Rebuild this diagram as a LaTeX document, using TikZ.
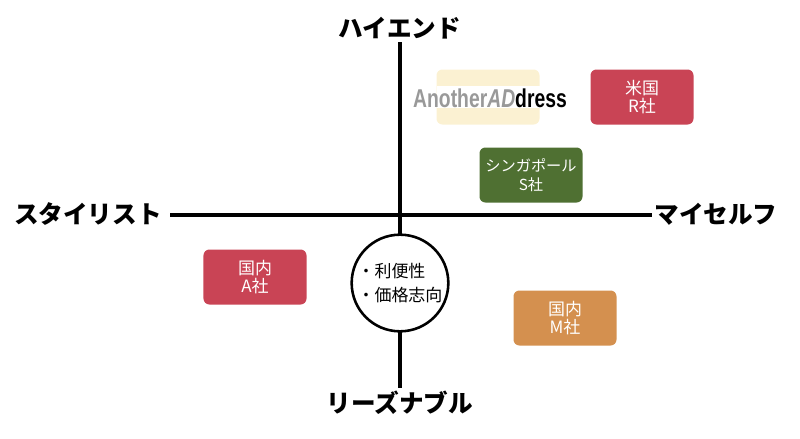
\documentclass[tikz,border=0pt]{standalone}
\usepackage{fontspec}
\setmainfont{Noto Sans CJK JP}
\newfontfamily\logofont{Liberation Sans}[FakeStretch=0.75]
\begin{document}
\begin{tikzpicture}[x=0.03cm,y=-0.03cm]
\definecolor{rred}{HTML}{C94455}
\definecolor{sgreen}{HTML}{4F7032}
\definecolor{morange}{HTML}{D4904F}
\definecolor{cream}{HTML}{FBF1D2}
\tikzset{
 axis/.style={line width=3.2pt,black},
 axlabel/.style={font=\fontsize{21}{21}\selectfont\bfseries},
 company/.style={rounded corners=5pt,minimum width=3.09cm,minimum height=1.65cm,text=white,align=center,font=\fontsize{14.5}{16}\selectfont,inner sep=0pt}
}
\useasboundingbox (0,0) rectangle (800,438);
\node[axlabel] (top) at (400,28) {ハイエンド};
\node[axlabel] (bot) at (400,403) {リーズナブル};
\node[axlabel] (left) at (88,214) {スタイリスト};
\node[axlabel] (right) at (716,214) {マイセルフ};
\coordinate (tA) at (400,42);
\coordinate (bA) at (400,388);
\coordinate (lA) at (170,215);
\coordinate (rA) at (652,215);
\draw[axis] (tA) -- (bA);
\draw[axis] (lA) -- (rA);
\node[circle,draw,line width=2.2pt,fill=white,minimum size=2.9cm,align=left,inner sep=0pt,font=\fontsize{14.5}{20}\selectfont] (c) at (400,283) {・利便性\\・価格志向};
\node[company,fill=cream,text=black] (logo) at (488,97) {};
\fill[white] (437,86) rectangle (540,108);
\node[font=\logofont\fontsize{22}{22}\selectfont\bfseries] (lt) at (490,98) {\textcolor{gray!80}{Another\textit{AD}}dress};
\node[company,fill=rred] (r) at (642,97) {米国\\R社};
\node[company,fill=sgreen,font=\fontsize{13}{16}\selectfont] (s) at (531,175) {シンガポール\\S社};
\node[company,fill=rred] (a) at (255,277) {国内\\A社};
\node[company,fill=morange] (m) at (565,318) {国内\\M社};
\end{tikzpicture}
\end{document}
